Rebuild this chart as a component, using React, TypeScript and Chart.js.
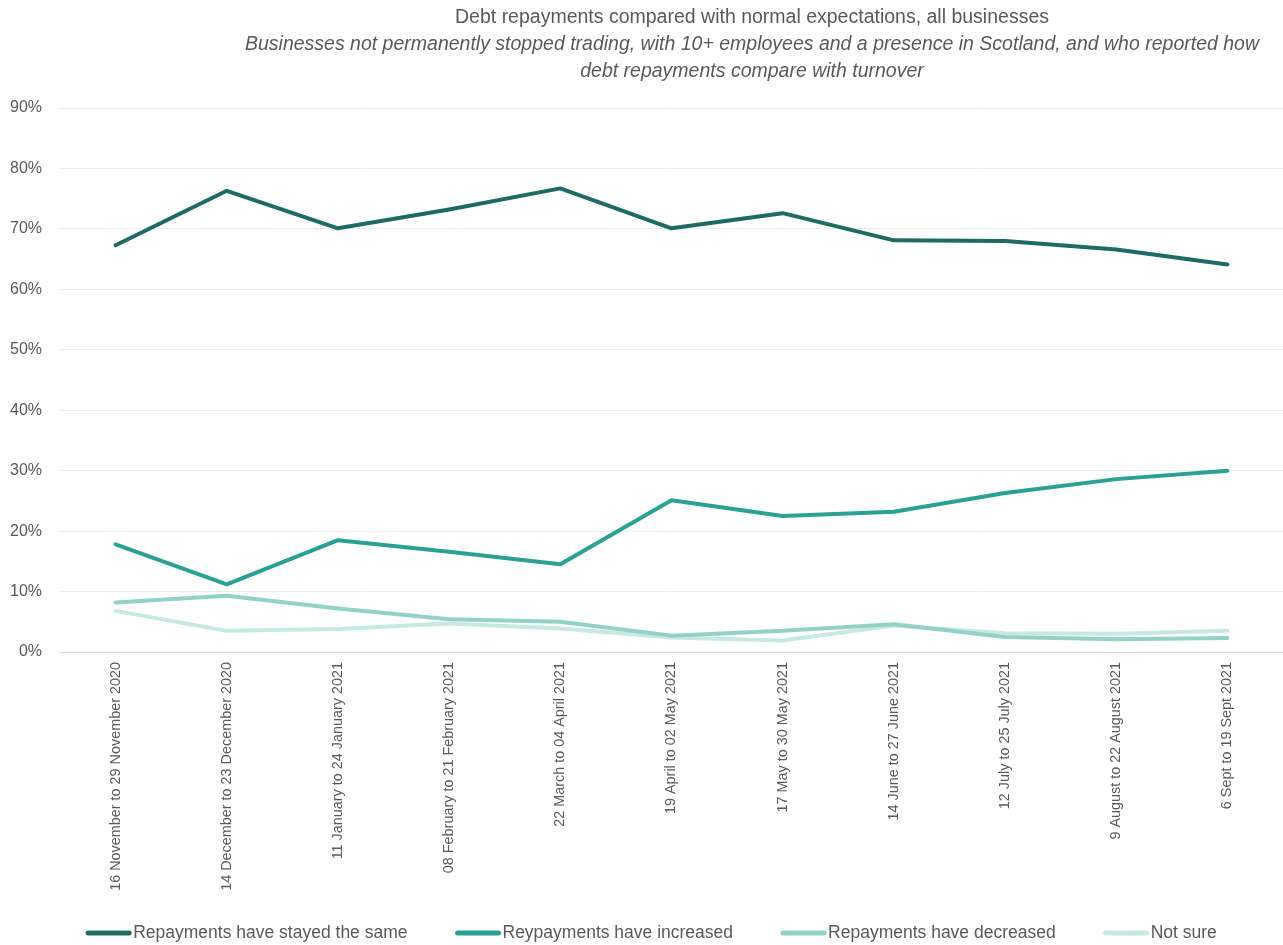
import React, { useEffect, useRef } from "react";
import { Chart, registerables } from "chart.js";

Chart.register(...registerables);

const categories = [
  "16 November to 29 November 2020",
  "14 December to 23 December 2020",
  "11 January to 24 January 2021",
  "08 February to 21 February 2021",
  "22 March to 04 April 2021",
  "19 April to 02 May 2021",
  "17 May to 30 May 2021",
  "14 June to 27 June 2021",
  "12 July to 25 July 2021",
  "9 August to 22 August 2021",
  "6 Sept to 19 Sept 2021",
];

const stayedSame = [67.3, 76.3, 70.1, 73.2, 76.7, 70.1, 72.6, 68.1, 68.0, 66.6, 64.1];
const increased = [17.8, 11.2, 18.5, 16.6, 14.5, 25.1, 22.5, 23.2, 26.3, 28.6, 30.0];
const decreased = [8.2, 9.3, 7.2, 5.4, 5.0, 2.7, 3.5, 4.6, 2.5, 2.1, 2.3];
const notSure = [6.8, 3.5, 3.8, 4.7, 3.9, 2.4, 1.9, 4.4, 3.1, 3.0, 3.5];

const seriesNames = [
  "Repayments have stayed the same",
  "Reypayments have increased",
  "Repayments have decreased",
  "Not sure",
];
const seriesColors = ["#1f6b63", "#2ba193", "#94d2c8", "#c8e8e2"];

const yTicks = [0, 10, 20, 30, 40, 50, 60, 70, 80, 90];

const titleLine = "Debt repayments compared with normal expectations, all businesses";
const subtitleLines = [
  "Businesses not permanently stopped trading, with 10+ employees and a presence in Scotland, and who reported how",
  "debt repayments compare with turnover",
];

const FONT = "'Liberation Sans', Arial, sans-serif";
const GREY = "#595959";

const titlePlugin = {
  id: "customTitle",
  afterDraw(chart: any) {
    const ctx = chart.ctx;
    ctx.save();
    ctx.fillStyle = GREY;
    ctx.textAlign = "center";
    ctx.textBaseline = "middle";
    const cx = 752;
    ctx.font = `19.5px ${FONT}`;
    ctx.fillText(titleLine, cx, 18);
    ctx.font = `italic 19.5px ${FONT}`;
    subtitleLines.forEach((l, i) => ctx.fillText(l, cx, 45 + i * 27));
    ctx.restore();
  },
};

const legendPlugin = {
  id: "customLegend",
  afterDraw(chart: any) {
    const ctx = chart.ctx;
    const boxW = 45;
    const boxGap = 2;
    const itemGap = 48;
    ctx.save();
    ctx.font = `17.5px ${FONT}`;
    const items = chart.data.datasets.map((d: any) => ({
      label: d.label,
      color: d.borderColor,
      w: ctx.measureText(d.label).width,
    }));
    const total =
      items.reduce((s: number, it: any) => s + boxW + boxGap + it.w, 0) + itemGap * (items.length - 1);
    let x = chart.width / 2 + 10 - total / 2;
    const y = chart.height - 12;
    ctx.textBaseline = "middle";
    ctx.textAlign = "left";
    items.forEach((it: any) => {
      ctx.strokeStyle = it.color;
      ctx.lineWidth = 5;
      ctx.lineCap = "round";
      ctx.beginPath();
      ctx.moveTo(x + 2, y);
      ctx.lineTo(x + boxW - 2, y);
      ctx.stroke();
      ctx.fillStyle = GREY;
      ctx.fillText(it.label, x + boxW + boxGap, y);
      x += boxW + boxGap + it.w + itemGap;
    });
    ctx.restore();
  },
};

export default function App() {
  const ref = useRef<HTMLCanvasElement | null>(null);
  useEffect(() => {
    document.body.style.margin = "0";
    const canvas = ref.current!;
    const series = [stayedSame, increased, decreased, notSure];
    const chart = new Chart(canvas, {
      type: "line",
      data: {
        labels: categories,
        datasets: series.map((data, i) => ({
          label: seriesNames[i],
          data,
          borderColor: seriesColors[i],
          backgroundColor: seriesColors[i],
          borderWidth: 4,
          pointRadius: 0,
          tension: 0,
          fill: false,
          borderCapStyle: "round" as const,
          borderJoinStyle: "round" as const,
        })),
      },
      options: {
        responsive: false,
        animation: false,
        layout: { padding: { top: 108, right: 0, left: 0, bottom: 54 } },
        plugins: {
          title: { display: false },
          tooltip: { enabled: false },
          legend: { display: false },
        },
        scales: {
          x: {
            offset: true,
            afterFit(scale: any) {
              scale.height = 239;
            },
            grid: { display: false, drawTicks: false },
            border: { color: "#d9d9d9", width: 1 },
            ticks: {
              color: GREY,
              font: { family: FONT, size: 14.4 },
              minRotation: 90,
              maxRotation: 90,
              autoSkip: false,
              padding: 10,
            },
          },
          y: {
            min: 0,
            max: 90,
            afterFit(scale: any) {
              scale.width = 60;
            },
            afterBuildTicks(axis: any) {
              axis.ticks = yTicks.map((v) => ({ value: v }));
            },
            grid: { color: "#ededed", lineWidth: 1, drawTicks: false },
            border: { display: false },
            ticks: {
              color: GREY,
              font: { family: FONT, size: 16 },
              padding: 18,
              callback: (v: any) => `${v}%`,
            },
          },
        },
      },
      plugins: [titlePlugin, legendPlugin],
    });
    return () => chart.destroy();
  }, []);
  return <canvas ref={ref} width={1283} height={945} style={{ display: "block" }} />;
}
